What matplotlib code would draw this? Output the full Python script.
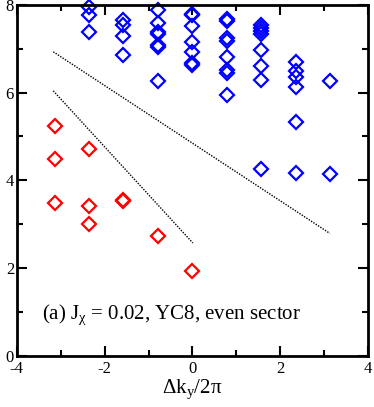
import numpy as np
import matplotlib
matplotlib.use("Agg")
import matplotlib.pyplot as plt

plt.rcParams['font.family'] = ['Liberation Serif', 'DejaVu Serif']
plt.rcParams['mathtext.fontset'] = 'custom'
plt.rcParams['mathtext.rm'] = 'Liberation Serif'
plt.rcParams['mathtext.it'] = 'Liberation Serif'
plt.rcParams['axes.unicode_minus'] = False

# ---------------- DATA ----------------
# momentum sectors (multiples of pi/4)
blue_x = ([-3, -3, -3] + [-2] * 4 + [-1] * 7 + [0] * 7 + [1] * 8 + [2] * 8 + [3] * 6 + [4] * 2)
blue_y = [7.95, 7.78, 7.38,
          7.65, 7.55, 7.30, 6.85,
          7.88, 7.59, 7.38, 7.34, 7.08, 7.03, 6.27,
          7.80, 7.76, 7.51, 7.16, 6.93, 6.68, 6.62,
          7.68, 7.63, 7.25, 7.17, 6.81, 6.52, 6.45, 5.94,
          7.53, 7.47, 7.40, 7.34, 6.96, 6.61, 6.28, 4.26,
          6.70, 6.50, 6.36, 6.12, 5.32, 4.16,
          6.27, 4.14]

red_x = [-4, -4, -4, -3, -3, -3, -2, -2, -1, 0]
red_y = [5.23, 4.48, 3.49, 4.71, 3.42, 3.00, 3.52, 3.56, 2.74, 1.94]

# dotted guide lines (endpoints)
line1_x = [-3.17, 3.13]
line1_y = [6.93, 2.79]
line2_x = [-3.17, 0.01]
line2_y = [6.04, 2.57]

# ---------------- PLOT ----------------
fig = plt.figure(figsize=(3.74, 4.07), dpi=100)
ax = fig.add_axes([0.045, 0.126, 0.939, 0.862])

bx = np.array(blue_x) * np.pi / 4
rx = np.array(red_x) * np.pi / 4

ax.plot(line1_x, line1_y, ls=(0, (1, 1)), color='black', lw=1.0)
ax.plot(line2_x, line2_y, ls=(0, (1, 1)), color='black', lw=1.0)

ax.plot(bx, blue_y, 'D', mfc='none', mec='blue', mew=1.6, ms=7.5, clip_on=False)
ax.plot(rx, red_y, 'D', mfc='none', mec='red', mew=1.6, ms=7.5)

ax.text(-3.43, 0.93, r"(a) J$_\chi$ = 0.02, YC8, even sector", fontsize=15, va='center')

ax.set_xlim(-4, 4)
ax.set_ylim(0, 8)
ax.set_xticks([-4, -2, 0, 2, 4])
ax.set_xticks([-3, -1, 1, 3], minor=True)
ax.set_yticks([0, 2, 4, 6, 8])
ax.set_yticks([1, 3, 5, 7], minor=True)
ax.tick_params(which='both', direction='in', top=True, right=True, width=1.5, labelsize=12)
ax.tick_params(which='major', length=7)
ax.tick_params(which='minor', length=4)
ax.tick_params(axis='y', pad=2)
for s in ax.spines.values():
    s.set_linewidth(2)

ax.set_xlabel(r"$\Delta$k$_y$/2$\pi$", fontsize=15, labelpad=1)

fig.savefig("out.png", dpi=100)
